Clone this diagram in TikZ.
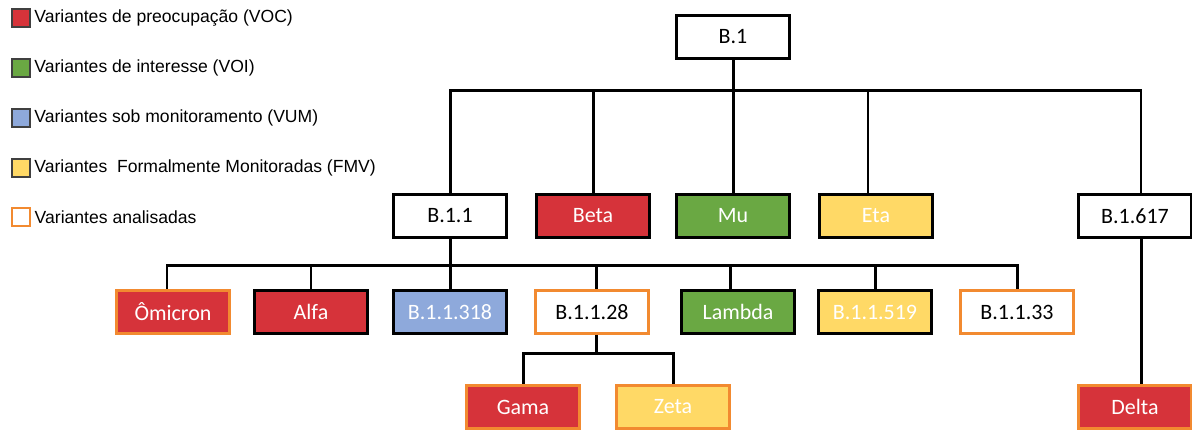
\documentclass[tikz,border=0pt]{standalone}
\usepackage{fontspec}
\setmainfont{Carlito}
\newfontfamily\legendfont{Liberation Sans}
\usepackage{xcolor}
\usetikzlibrary{positioning}

\definecolor{vocred}{HTML}{D6333A}
\definecolor{voigreen}{HTML}{6AA843}
\definecolor{vumblue}{HTML}{8EA9DB}
\definecolor{fmvyellow}{HTML}{FFD966}
\definecolor{anaorange}{HTML}{F28A30}

\begin{document}
\begin{tikzpicture}[
    x=0.02cm, y=0.02cm,
    vbox/.style={draw, rectangle, minimum width=2.26cm, minimum height=0.86cm, line width=2pt, font=\fontsize{12.5}{14}\selectfont, inner sep=0pt},
    voc/.style={vbox, fill=vocred, text=white},
    voi/.style={vbox, fill=voigreen, text=white},
    vum/.style={vbox, fill=vumblue, text=white},
    fmv/.style={vbox, fill=fmvyellow, text=white},
    plain/.style={vbox, fill=white},
    analysed/.style={draw=anaorange, line width=1.6pt},
    link/.style={line width=1.7pt},
    thinlink/.style={line width=1.2pt},
    legsq/.style={draw=black!75, line width=0.6pt, minimum size=0.36cm, inner sep=0pt},
    legtext/.style={right=0.07cm of #1, font=\legendfont\fontsize{10}{12}\selectfont, inner sep=0pt},
]
    \useasboundingbox (0,0) rectangle (1192,-430);

    % Legend
    \node [legsq, fill=vocred] (leg1) at (21,-18) {};
    \node [legtext=leg1] (legt1) {Variantes de preocupação (VOC)};
    \node [legsq, fill=voigreen] (leg2) at (21,-68) {};
    \node [legtext=leg2] (legt2) {Variantes de interesse (VOI)};
    \node [legsq, fill=vumblue] (leg3) at (21,-118) {};
    \node [legtext=leg3] (legt3) {Variantes sob monitoramento (VUM)};
    \node [legsq, fill=fmvyellow] (leg4) at (21,-168) {};
    \node [legtext=leg4] (legt4) {Variantes\ \ Formalmente Monitoradas (FMV)};
    \node [legsq, draw=anaorange, line width=1pt, fill=white] (leg5) at (21,-217) {};
    \node [legtext=leg5] (legt5) {Variantes analisadas};

    % Root
    \node [plain] (b1) at (733,-37) {B.1};

    % Row 2
    \node [plain] (b11) at (450,-216) {B.1.1};
    \node [voc] (beta) at (593,-216) {Beta};
    \node [voi] (mu) at (733,-216) {Mu};
    \node [fmv] (eta) at (876,-216) {Eta};
    \node [plain] (b1617) at (1135,-216) {B.1.617};

    % Row 3
    \node [voc, analysed] (omicron) at (173,-312) {Ômicron};
    \node [voc] (alfa) at (311,-312) {Alfa};
    \node [vum] (b11318) at (450,-312) {B.1.1.318};
    \node [plain, analysed] (b1128) at (592,-312) {B.1.1.28};
    \node [voi] (lambda) at (738,-312) {Lambda};
    \node [fmv] (b11519) at (875,-312) {B.1.1.519};
    \node [plain, analysed] (b1133) at (1017,-312) {B.1.1.33};

    % Row 4
    \node [voc, analysed] (gama) at (523,-407) {Gama};
    \node [fmv, analysed] (zeta) at (673,-407) {Zeta};
    \node [voc, analysed] (delta) at (1135,-407) {Delta};

    % B.1 branches
    \draw [link] (b1.south) -- ++(0,-30) -| (b11.north);
    \draw [link] (b1.south) -- ++(0,-30) -| (beta.north);
    \draw [link] (b1.south) -- (mu.north);
    \draw [link] (b1.south) -- ++(0,-30) -- ++(408,0);
    \draw [thinlink] (b1.south) ++(0,-30) -| ([xshift=0.12cm]b1617.north);
    \draw [thinlink] (b1.south) ++(0,-30) -| ([xshift=-0.16cm]eta.north);

    % B.1.1 branches
    \draw [link] (b11.south) -- ++(0,-26) -| ([xshift=-0.12cm]omicron.north);
    \draw [link] (b11.south) -- ++(0,-26) -| (alfa.north);
    \draw [link] (b11.south) -- (b11318.north);
    \draw [link] (b11.south) -- ++(0,-26) -| ([xshift=0.08cm]b1128.north);
    \draw [link] (b11.south) -- ++(0,-26) -| ([xshift=-0.16cm]lambda.north);
    \draw [link] (b11.south) -- ++(0,-26) -| (b11519.north);
    \draw [link] (b11.south) -- ++(0,-26) -| (b1133.north);

    % B.1.1.28 branches
    \draw [link] ([xshift=0.08cm]b1128.south) -- ++(0,-19) -| (gama.north);
    \draw [link] ([xshift=0.08cm]b1128.south) -- ++(0,-19) -| (zeta.north);

    % B.1.617 branch
    \draw [link] ([xshift=0.12cm]b1617.south) -- ([xshift=0.12cm]delta.north);
\end{tikzpicture}
\end{document}
